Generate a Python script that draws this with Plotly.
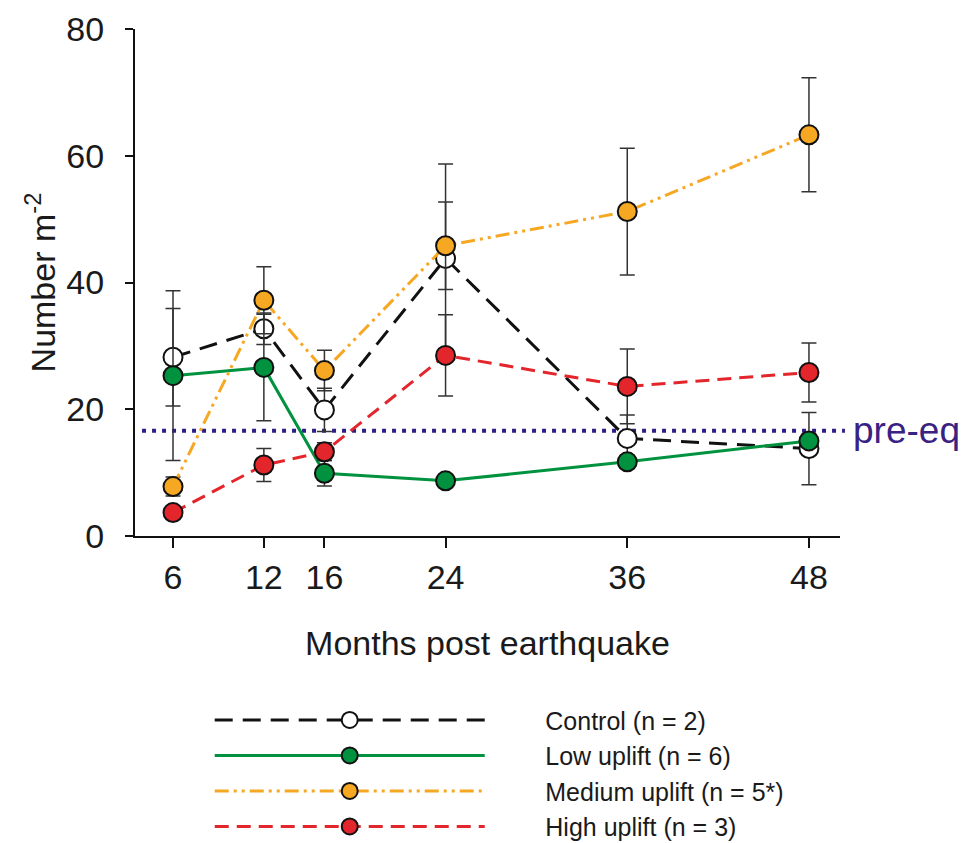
import plotly.graph_objects as go

months = [6, 12, 16, 24, 36, 48]
tick_labels = ["6", "12", "16", "24", "36", "48"]

control = [28.2, 32.7, 19.9, 43.8, 15.4, 13.8]
control_err = [7.7, 2.5, 3.4, 14.9, 3.7, 5.7]

low = [25.3, 26.6, 9.9, 8.7, 11.7, 15.0]
low_err = [13.4, 8.4, 2.0, 0.8, 1.0, 1.0]

medium = [7.8, 37.2, 26.1, 45.8, 51.2, 63.3]
medium_err = [1.5, 5.3, 3.2, 6.9, 10.0, 9.0]

high = [3.7, 11.2, 13.3, 28.5, 23.6, 25.8]
high_err = [0.8, 2.6, 1.4, 6.4, 5.9, 4.65]

pre_eq = 16.6

names = ["Control (n = 2)", "Low uplift (n = 6)", "Medium uplift (n = 5*)", "High uplift (n = 3)"]
values = [control, low, medium, high]
errors = [control_err, low_err, medium_err, high_err]
line_colors = ["#111111", "#00923f", "#f7a823", "#e3262b"]
fill_colors = ["#ffffff", "#00923f", "#f7a823", "#e3262b"]
dashes = ["18px,10px", "solid", "14px,5px,3px,5px,3px,5px", "14px,8px"]

FONT = "Arial, Liberation Sans, sans-serif"
pad = "\u00a0" * 8

fig = go.Figure()
for i in range(4):
    fig.add_trace(go.Scatter(
        x=months, y=values[i], name=pad + names[i], legendgroup=str(i),
        mode="lines+markers",
        line=dict(color=line_colors[i], width=3, dash=dashes[i]),
        marker=dict(size=19, color=fill_colors[i], line=dict(color="#111111", width=2)),
        error_y=dict(type="data", array=errors[i], visible=True, color="#333333",
                     thickness=1.5, width=7.5),
        cliponaxis=False,
    ))

fig.add_shape(type="line", xref="paper", yref="y", x0=0.01, x1=1.007,
              y0=pre_eq, y1=pre_eq, layer="below",
              line=dict(color="#2e1f86", width=4, dash="4px,6px"))
fig.add_annotation(text="pre-eq", xref="paper", yref="y", x=1.016, y=pre_eq,
                   xanchor="left", yanchor="middle", showarrow=False,
                   font=dict(family=FONT, size=37, color="#3a2283"))

fig.update_layout(
    width=966, height=843,
    margin=dict(l=135, r=126, t=29, b=307, autoexpand=False),
    paper_bgcolor="white", plot_bgcolor="white",
    font=dict(family=FONT, color="#1a1a1a"),
    showlegend=True,
    legend=dict(x=0.106, y=-0.318, xanchor="left", yanchor="top",
                orientation="v", itemwidth=270, traceorder="grouped",
                tracegroupgap=0, font=dict(family=FONT, size=25, color="#1a1a1a"),
                bgcolor="rgba(0,0,0,0)"),
)
fig.update_xaxes(range=[3.49, 50.05], tickvals=months, ticktext=tick_labels,
                 ticks="outside", ticklen=10, tickwidth=2, tickcolor="#111111",
                 showline=True, linewidth=2, linecolor="#111111",
                 showgrid=False, zeroline=False,
                 tickfont=dict(family=FONT, size=34, color="#1a1a1a"),
                 title=dict(text="Months post earthquake", standoff=36,
                            font=dict(family=FONT, size=34, color="#1a1a1a")))
fig.update_yaxes(range=[0, 80], tickvals=[0, 20, 40, 60, 80],
                 ticks="outside", ticklen=8, tickwidth=2, tickcolor="#111111",
                 showline=True, linewidth=2, linecolor="#111111",
                 showgrid=False, zeroline=False, ticklabelstandoff=14,
                 tickfont=dict(family=FONT, size=34, color="#1a1a1a"),
                 title=dict(text="Number m<sup>-2</sup>", standoff=0,
                            font=dict(family=FONT, size=34, color="#1a1a1a")))

fig.write_html("out.html")
